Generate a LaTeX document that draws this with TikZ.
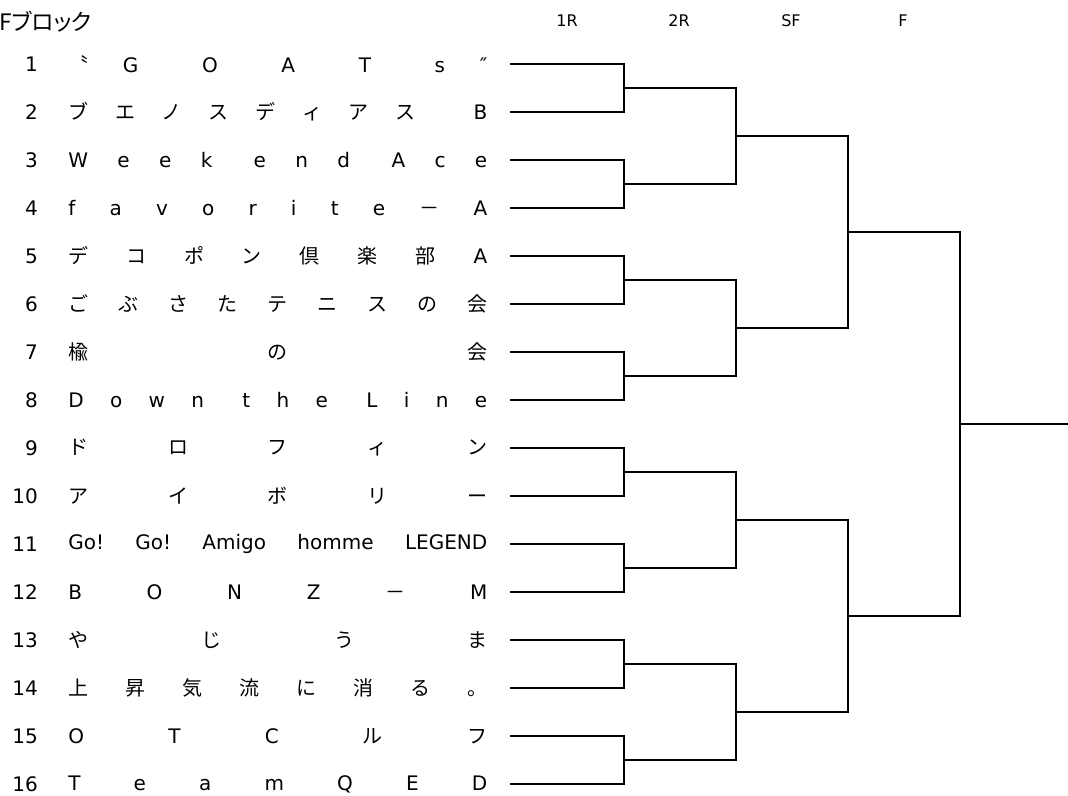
\documentclass[tikz,border=0pt]{standalone}
\usepackage{fontspec}
\setmainfont{DejaVu Sans}
\newfontfamily\jp{Noto Sans CJK JP}
\newfontfamily\jpp[RawFeature=+palt]{Noto Sans CJK JP}
\usepackage{tikz}
\tikzstyle{bracket} = [line width=2.1pt]
\tikzstyle{teamname} = [inner sep=0pt, anchor=west, font=\fontsize{15}{17}\selectfont]
\tikzstyle{seedno} = [inner sep=0pt, anchor=east, font=\fontsize{15}{17}\selectfont]
\tikzstyle{roundlabel} = [inner sep=0pt, font=\fontsize{12}{14}\selectfont]

% spread the letters of a name over the whole cell
\makeatletter
\newcommand\spread[1]{\makebox[314.25pt][s]{\@tfor\sp@item:=#1\do{{\sp@item}\hfill}\hskip0pt plus -1fill\relax}}
\makeatother

\begin{document}
\begin{tikzpicture}[x=0.75pt, y=-0.75pt]
\useasboundingbox (0,0) rectangle (1068,796);

\node (title) [anchor=west, inner sep=0pt, font=\jpp\fontsize{17}{19}\selectfont] at (-1,22) {Fブロック};

\foreach \r/\lab in {1/1R, 2/2R, 3/SF, 4/F}
  \node (head\r) [roundlabel] at (455+112*\r, 21) {\lab};

% entries
\foreach \i/\team in {
  1/{\spread{{{\jp 〝}\kern26pt G}OAT{s\kern26pt ″}}},
  2/{\jp\spread{ブエノスディアス{\ }{\rmfamily B}}},
  3/{\spread{Week{\kern9pt e}nd{\kern9pt A}ce}},
  4/{\spread{favorite{\jp －}A}},
  5/{\jp\spread{デコポン倶楽部{\rmfamily A}}},
  6/{\jp\spread{ごぶさたテニスの会}},
  7/{\jp\spread{楡の会}},
  8/{\spread{Down{\kern9pt t}he{\kern9pt L}ine}},
  9/{\jp\spread{ドロフィン}},
  10/{\jp\spread{アイボリー}},
  11/{\spread{{Go!}{Go!}{Amigo}{homme}{LEGEND}}},
  12/{\spread{BONZ{\jp －}M}},
  13/{\jp\spread{やじうま}},
  14/{\jp\spread{上昇気流に消る。}},
  15/{\spread{OTC{\jp ル}{\jp フ}}},
  16/{\spread{TeamQED}}}{
  \node (seed\i) [seedno] at (38, 16+48*\i) {\i};
  \node (team\i) [teamname] at (68, 16+48*\i) {\team};
  \coordinate (e\i) at (510, 16+48*\i);
}

% match points
\foreach \j in {1,...,8} \coordinate (a\j) at (624, {-8+96*\j});
\foreach \j in {1,...,4} \coordinate (b\j) at (736, {-56+192*\j});
\foreach \j in {1,2} \coordinate (c\j) at (848, {-152+384*\j});
\coordinate (d1) at (960, 424);
\coordinate (champ) at (1068, 424);

\foreach \j in {1,...,8}{
  \pgfmathtruncatemacro\p{2*\j-1}\pgfmathtruncatemacro\q{2*\j}
  \draw [bracket] (e\p) -| (a\j) |- (e\q);
}
\foreach \j in {1,...,4}{
  \pgfmathtruncatemacro\p{2*\j-1}\pgfmathtruncatemacro\q{2*\j}
  \draw [bracket] (a\p) -| (b\j) |- (a\q);
}
\foreach \j in {1,2}{
  \pgfmathtruncatemacro\p{2*\j-1}\pgfmathtruncatemacro\q{2*\j}
  \draw [bracket] (b\p) -| (c\j) |- (b\q);
}
\draw [bracket] (c1) -| (d1) |- (c2);
\draw [bracket] (d1) -- (champ);

\end{tikzpicture}
\end{document}
